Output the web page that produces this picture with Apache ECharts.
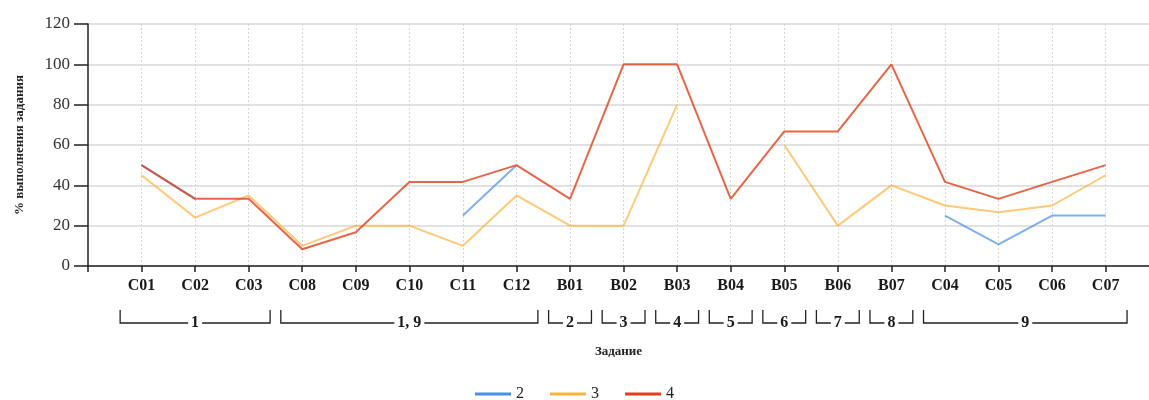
<!DOCTYPE html>
<html>
<head>
<meta charset="utf-8">
<script src="https://cdn.jsdelivr.net/npm/echarts@6/dist/echarts.min.js"></script>
<style>
  html, body { margin: 0; padding: 0; background: #fff; }
  #chartWrap { width: 1149px; height: 400px; }
</style>
</head>
<body>
<div id="chartWrap"></div>
<script>
// категории по оси X
var categories = ['C01', 'C02', 'C03', 'C08', 'C09', 'C10', 'C11', 'C12', 'B01', 'B02',
    'B03', 'B04', 'B05', 'B06', 'B07', 'C04', 'C05', 'C06', 'C07'];

// значения серий (null = нет данных)
var series2 = [50, 33.3, null, null, null, null, 25, 50, null, null,
    null, null, null, null, null, 25, 10.7, 25, 25];
var series3 = [45, 24, 35, 10, 20, 20, 10, 35, 20, 20,
    80, null, 60, 20, 40, 30, 26.7, 30, 45];
var series4 = [50, 33.3, 33.3, 8.3, 16.7, 41.7, 41.7, 50, 33.3, 100,
    100, 33.3, 66.7, 66.7, 100, 41.7, 33.3, 41.7, 50];

// группы заданий: первый и последний индекс категории
var groupLabels = ['1', '1, 9', '2', '3', '4', '5', '6', '7', '8', '9'];
var groupFrom = [0, 3, 8, 9, 10, 11, 12, 13, 14, 15];
var groupTo = [2, 7, 8, 9, 10, 11, 12, 13, 14, 18];

var serif = '"Liberation Serif", "DejaVu Serif", serif';

function toXY(arr) {
    return arr.map(function (v, i) { return [i, v]; });
}

function lineSeries(name, data, color, opacity) {
    return {
        name: name,
        type: 'line',
        data: toXY(data),
        showSymbol: false,
        symbol: 'none',
        connectNulls: false,
        color: color,
        lineStyle: { width: 2, color: color, opacity: opacity },
        z: 3
    };
}

var groupData = groupFrom.map(function (f, i) { return [f, groupTo[i]]; });

var myChart = echarts.init(document.getElementById('chartWrap'));

myChart.setOption({
    animation: false,
    textStyle: { fontFamily: serif },
    grid: { left: 88, top: 24, right: 0, bottom: 134 },
    legend: {
        top: 381,
        left: 'center',
        data: ['2', '3', '4'],
        itemWidth: 36,
        itemHeight: 3,
        itemGap: 26,
        icon: 'rect',
        textStyle: { fontFamily: serif, fontSize: 16, color: '#222' }
    },
    xAxis: {
        type: 'value',
        min: -1,
        max: 18.81,
        interval: 1,
        name: 'Задание',
        nameLocation: 'middle',
        nameGap: 79,
        nameTextStyle: { fontFamily: serif, fontWeight: 'bold', fontSize: 13, color: '#222' },
        axisLine: { show: true, onZero: false, lineStyle: { color: '#222', width: 1.5 } },
        axisTick: { show: true, length: 6, lineStyle: { color: '#222', width: 1.5 } },
        axisLabel: {
            margin: 12,
            fontFamily: serif,
            fontWeight: 'bold',
            fontSize: 16,
            color: '#1a1a1a',
            showMaxLabel: false,
            formatter: function (v) {
                var i = Math.round(v);
                return (i >= 0 && i < categories.length && Math.abs(v - i) < 1e-6) ? categories[i] : '';
            }
        },
        splitLine: {
            show: true,
            showMinLine: false,
            showMaxLine: false,
            lineStyle: { color: '#d6d6d6', type: [2, 2], width: 1 }
        }
    },
    yAxis: {
        type: 'value',
        min: 0,
        max: 120,
        interval: 20,
        name: '% выполнения задания',
        nameLocation: 'middle',
        nameGap: 62,
        nameTextStyle: { fontFamily: serif, fontWeight: 'bold', fontSize: 13, color: '#222' },
        axisLine: { show: true, onZero: false, lineStyle: { color: '#222', width: 1.5 } },
        axisTick: { show: true, length: 14, lineStyle: { color: '#222', width: 1.5 } },
        axisLabel: { margin: 18, fontFamily: serif, fontSize: 17, color: '#333' },
        splitLine: { show: true, lineStyle: { color: '#e2e2e2', width: 2 } }
    },
    series: [
        lineSeries('2', series2, '#4a90e8', 0.7),
        lineSeries('3', series3, '#ffb23f', 0.7),
        lineSeries('4', series4, '#e2401a', 0.8),
        {
            // скобки групп под подписями оси
            name: 'groups',
            type: 'custom',
            clip: false,
            silent: true,
            data: groupData,
            encode: { x: [0, 1] },
            renderItem: function (params, api) {
                var a = api.coord([api.value(0) - 0.4, 0]);
                var b = api.coord([api.value(1) + 0.4, 0]);
                var y = a[1] + 57;
                var h = 13;
                var mid = (a[0] + b[0]) / 2;
                return {
                    type: 'group',
                    children: [{
                        type: 'polyline',
                        shape: { points: [[a[0], y - h], [a[0], y], [b[0], y], [b[0], y - h]] },
                        style: { stroke: '#222', lineWidth: 1.3, fill: null }
                    }, {
                        type: 'text',
                        x: mid,
                        y: y,
                        style: {
                            text: groupLabels[params.dataIndex],
                            font: 'bold 16px ' + serif,
                            fill: '#1a1a1a',
                            align: 'center',
                            verticalAlign: 'middle',
                            backgroundColor: '#fff',
                            padding: [0, 3]
                        }
                    }]
                };
            },
            z: 5
        }
    ]
});
</script>
</body>
</html>
